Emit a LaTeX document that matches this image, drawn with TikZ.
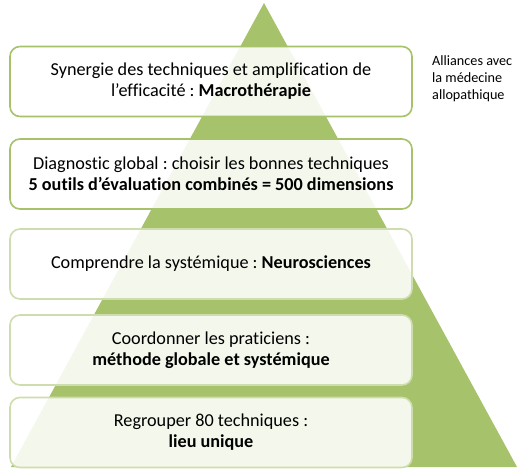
\documentclass[tikz,border=0pt]{standalone}
\usepackage{fontspec}
\setmainfont{Carlito}[Ligatures=NoCommon]
\usepackage{xcolor}
\usepackage{tikz}
\usetikzlibrary{positioning}
\frenchspacing

\definecolor{pyrgreen}{RGB}{166,194,106}

\begin{document}
\begin{tikzpicture}[
  x=1pt, y=-1pt,
  every node/.style={font=\fontsize{18.2}{21}\selectfont, align=center},
  level/.style={rectangle, rounded corners=10pt, draw=pyrgreen, line width=1.6pt,
    fill=white, fill opacity=0.88, text opacity=1, minimum width=402pt, minimum height=70pt, inner sep=2pt},
  faded/.style={level, draw=pyrgreen!55},
  side/.style={font=\fontsize{14.2}{17}\selectfont, align=left, anchor=north west, inner sep=0pt}
]
\useasboundingbox (0,0) rectangle (530,474);

% Pyramid
\fill[pyrgreen] (264,3) -- (517,467) -- (11,467) -- cycle;

% Levels
\node[level] (macro) at (211,81.5) {Synergie des techniques et amplification de\\l’efficacité : \textbf{Macrothérapie}};
\node[level] (diag) at (211,174) {Diagnostic global : choisir les bonnes techniques\\\textbf{5 outils d’évaluation combinés = 500 dimensions}};
\node[faded] (neuro) at (211,264) {Comprendre la systémique : \textbf{Neurosciences}};
\node[faded] (coord) at (211,350) {Coordonner les praticiens :\\\textbf{méthode globale et systémique}};
\node[faded] (lieu) at (211,432.5) {Regrouper 80 techniques :\\\textbf{lieu unique}};

% Side note
\node[side] (alliance) at (432,55) {Alliances avec\\la médecine\\allopathique};

\end{tikzpicture}
\end{document}
